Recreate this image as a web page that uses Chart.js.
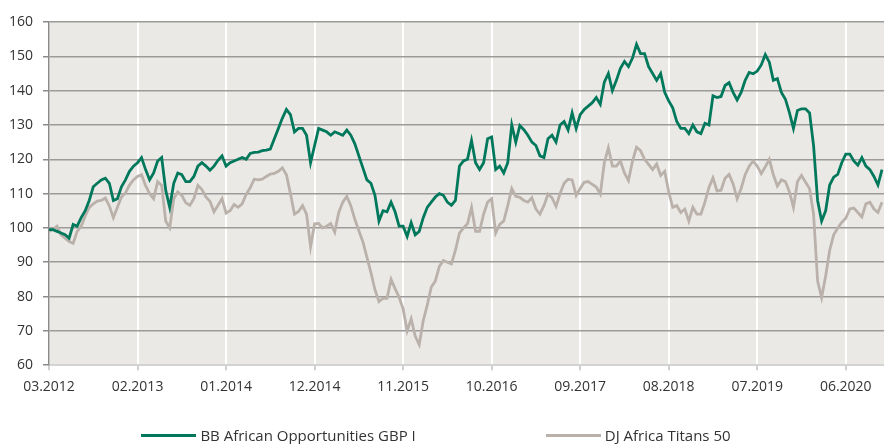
<!DOCTYPE html>
<html lang="en">
<head>
    <meta charset="UTF-8">
    <title>BB African Opportunities vs DJ Africa Titans 50</title>
    <script src="https://cdn.jsdelivr.net/npm/chart.js"></script>
    <style>
        body {
            margin: 0;
            background: #ffffff;
            font-family: 'Open Sans', sans-serif;
        }
        .wrap {
            position: relative;
            width: 884px;
            height: 444px;
        }
        #legend {
            position: absolute;
            left: 0;
            right: 0;
            top: 425px;
            display: flex;
            justify-content: center;
            gap: 130px;
            font-size: 15px;
            color: #333;
            padding-right: 12px;
        }
        .item {
            display: flex;
            align-items: center;
        }
        .swatch {
            display: inline-block;
            width: 55px;
            height: 3px;
            margin-right: 4px;
        }
    </style>
</head>
<body>
    <div class="wrap">
        <canvas id="perfChart" width="884" height="444"></canvas>
        <div id="legend"></div>
    </div>

    <script>
        // semi-monthly readings, 03.2012 onwards
        const tickLabels = ['03.2012', '02.2013', '01.2014', '12.2014', '11.2015',
                            '10.2016', '09.2017', '08.2018', '07.2019', '06.2020'];

        const bbFund = [
            99.5, 99.5, 99, 98.5, 98, 97, 101, 100.5, 103, 105,
            108, 112, 113, 114, 114.5, 113, 108, 108.5, 112, 114,
            116.5, 118, 119, 120.5, 117, 114, 116, 119.5, 120.5, 111,
            106, 113, 116, 115.5, 113.5, 113.5, 115, 118, 119, 118,
            116.8, 118, 119.7, 121, 118, 119, 119.5, 120, 120.5, 120,
            121.7, 122, 122.1, 122.5, 122.7, 123, 126, 129, 132, 134.5,
            133, 128, 129, 129, 127, 119, 124, 129, 128.5, 128,
            127, 128, 127.5, 127, 128.5, 127, 124.5, 121, 117.5, 114,
            113, 109.5, 102, 105, 104.7, 107.5, 104.7, 100.5, 100.5, 97.5,
            101.5, 98, 99, 103, 106, 107.5, 109, 110, 109.5, 107.5,
            106.6, 108, 118, 119.5, 120, 125.5, 119, 117, 119, 126,
            126.5, 117, 118, 116, 119, 130, 125, 129.8, 128.6, 127,
            125, 124, 121, 120.5, 126, 127, 125, 130, 131, 128.5,
            133.5, 129, 133, 134.5, 135.5, 136.5, 138, 136, 142.5, 145,
            140, 143, 146.5, 148.5, 147, 149.5, 153.5, 150.8, 150.8, 147,
            145, 143, 145, 139.5, 137, 135, 131, 129, 129, 127.5,
            130, 128, 127.5, 130.5, 130, 138.5, 138, 138.3, 141.5, 142.3,
            139.5, 137.3, 139.5, 143, 145.3, 144.9, 145.7, 147.5, 150.5, 148.3,
            143, 143.5, 139.5, 137.5, 133.6, 129, 134.2, 134.7, 134.7, 133.5,
            124, 108, 102, 105, 112.5, 114.8, 115.6, 119, 121.5, 121.5,
            119.5, 118.3, 120.5, 118, 117, 115, 112.5, 117
        ];

        const djTitans = [
            99, 99.5, 100.5, 98, 97, 96, 95.5, 99, 100.5, 103.5,
            106, 107, 107.8, 108, 108.7, 106.4, 103, 106, 109, 110.2,
            112.5, 114, 115, 115.5, 112.3, 110, 108.5, 113.5, 112.4, 102,
            100, 108.5, 110.5, 109.5, 107.3, 106.6, 108.5, 112.4, 111.2, 109,
            107.8, 104.7, 106.6, 108.5, 104.3, 105, 106.8, 106, 107, 109.8,
            111.7, 114.2, 114, 114.2, 115, 115.7, 115.9, 116.5, 117.5, 115.5,
            110, 104, 104.8, 106.5, 104, 94.5, 101.2, 101.3, 100, 100.5,
            101.3, 98.8, 104.5, 107.5, 109.2, 106.5, 102.5, 99.2, 96, 91.5,
            87, 82, 78.5, 79.5, 79.5, 85, 82.3, 79.8, 76.4, 70,
            73.5, 68.5, 66, 73, 77.5, 82.8, 84.5, 88.8, 90.5, 90,
            89.5, 93.5, 98.5, 100, 101.2, 106, 99, 99, 104, 107.5,
            108.5, 98.5, 101, 102, 106.5, 111.5, 109.2, 108.9, 108, 107.5,
            108.8, 105.5, 104, 106.5, 109.9, 108.8, 106.3, 110, 113, 114.2,
            114, 109.5, 111.5, 113.3, 113.5, 112.7, 111.9, 109.9, 119, 123.3,
            118, 118, 119.5, 116, 113.8, 119.5, 123.5, 122.5, 120, 118.5,
            117, 118.6, 115.3, 116.5, 110.5, 106, 106.5, 104.5, 105.5, 102,
            106, 104, 104, 107.5, 111.8, 114.6, 110.8, 111, 114.5, 115.6,
            112.8, 108.5, 111.5, 115.5, 118, 119.5, 118, 115.8, 117.8, 120,
            115.5, 112.2, 114, 113.5, 110.5, 106, 113.5, 115.3, 113.3, 111.5,
            104, 84.5, 79.7, 86, 93.5, 98, 100, 101.6, 102.8, 105.5,
            105.8, 104.5, 103.2, 107, 107.5, 105.5, 104.5, 107.5
        ];

        const seriesNames = ['BB African Opportunities GBP I', 'DJ Africa Titans 50'];
        const seriesColors = ['#00785c', '#b9b1aa'];

        Chart.defaults.font.family = "'Open Sans', sans-serif";
        Chart.defaults.font.size = 14;
        Chart.defaults.color = '#333';

        const plotBackground = {
            id: 'plotBackground',
            beforeDraw(chart) {
                const a = chart.chartArea;
                const ctx = chart.ctx;
                ctx.save();
                ctx.fillStyle = '#ebe9e6';
                ctx.fillRect(a.left, a.top, a.right - a.left, a.bottom - a.top);
                ctx.restore();
            }
        };

        const ctx = document.getElementById('perfChart').getContext('2d');
        const chart = new Chart(ctx, {
            type: 'line',
            data: {
                datasets: [
                    {
                        label: seriesNames[0],
                        data: bbFund.map((v, i) => ({ x: i, y: v })),
                        borderColor: seriesColors[0],
                        borderWidth: 2.8,
                        pointRadius: 0,
                        tension: 0
                    },
                    {
                        label: seriesNames[1],
                        data: djTitans.map((v, i) => ({ x: i, y: v })),
                        borderColor: seriesColors[1],
                        borderWidth: 2.8,
                        pointRadius: 0,
                        tension: 0
                    }
                ]
            },
            options: {
                responsive: false,
                animation: false,
                layout: {
                    padding: { top: 22, right: 0, bottom: 41, left: 0 }
                },
                plugins: {
                    legend: { display: false },
                    tooltip: { enabled: false }
                },
                scales: {
                    x: {
                        type: 'linear',
                        min: 0,
                        max: 207.5,
                        grid: {
                            color: '#ffffff',
                            lineWidth: 2,
                            tickColor: '#cfcfcf',
                            tickLength: 5
                        },
                        border: { color: '#d3d3d3', width: 2 },
                        ticks: {
                            stepSize: 22,
                            includeBounds: false,
                            autoSkip: false,
                            maxRotation: 0,
                            padding: 8,
                            callback: v => tickLabels[v / 22] || ''
                        }
                    },
                    y: {
                        min: 60,
                        max: 160,
                        afterFit(scale) { scale.width = 49; },
                        grid: {
                            color: c => c.tick && c.tick.value === 60 ? 'rgba(0,0,0,0)' : '#9c9b99',
                            lineWidth: 1.5,
                            tickColor: '#8a8a8a',
                            tickLength: 6
                        },
                        border: { color: '#8a8a8a', width: 1.5 },
                        ticks: {
                            stepSize: 10,
                            padding: 10
                        }
                    }
                }
            },
            plugins: [plotBackground]
        });

        // legend below the chart
        const legend = document.getElementById('legend');
        chart.data.datasets.forEach(ds => {
            const item = document.createElement('div');
            item.className = 'item';
            item.innerHTML = '<span class="swatch" style="background:' + ds.borderColor + '"></span>' + ds.label;
            legend.appendChild(item);
        });
    </script>
</body>
</html>
